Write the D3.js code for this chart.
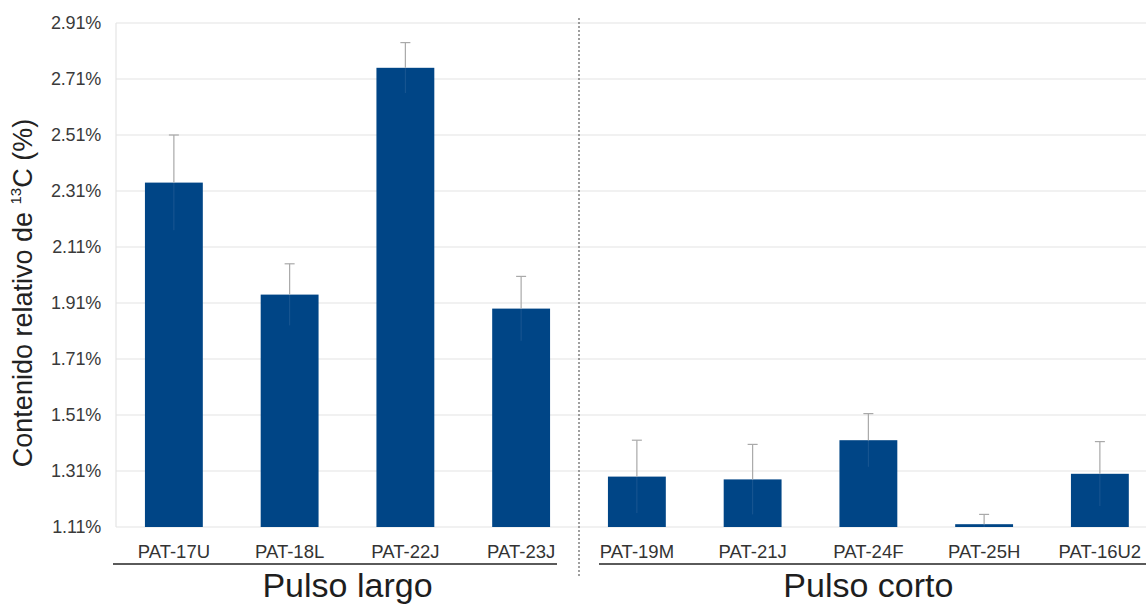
<!DOCTYPE html>
<html>
<head>
<meta charset="utf-8">
<script src="https://cdn.jsdelivr.net/npm/d3@7"></script>
<style>
  html, body { margin: 0; padding: 0; background: #ffffff; }
  svg { display: block; font-family: "Liberation Sans", Arial, sans-serif; }
</style>
</head>
<body>
<svg id="chart" width="1146" height="605"></svg>
<script>
// Samples and their relative 13C content (%) with upper error
const categories = ["PAT-17U", "PAT-18L", "PAT-22J", "PAT-23J", "PAT-19M", "PAT-21J", "PAT-24F", "PAT-25H", "PAT-16U2"];
const values = [2.34, 1.94, 2.75, 1.89, 1.29, 1.28, 1.42, 1.12, 1.30];
const errors = [0.17, 0.11, 0.09, 0.115, 0.13, 0.125, 0.095, 0.035, 0.115];
const tickValues = [1.11, 1.31, 1.51, 1.71, 1.91, 2.11, 2.31, 2.51, 2.71, 2.91];
const groupNames = ["Pulso largo", "Pulso corto"];
const groupMembers = [["PAT-17U", "PAT-18L", "PAT-22J", "PAT-23J"],
                      ["PAT-19M", "PAT-21J", "PAT-24F", "PAT-25H", "PAT-16U2"]];

const svg = d3.select("#chart");
const W = 1146;
const plotLeft = 116, plotTop = 23, plotBottom = 527;

const y = d3.scaleLinear().domain([1.11, 2.91]).range([plotBottom, plotTop]);
const x = d3.scaleBand().domain(categories)
  .range([plotLeft, plotLeft + 9 * 115.75])
  .paddingInner(0.5).paddingOuter(0.25);
const bw = x.bandwidth();

// horizontal gridlines
svg.append("g")
  .selectAll("line")
  .data(tickValues)
  .join("line")
  .attr("x1", plotLeft).attr("x2", W)
  .attr("y1", d => y(d)).attr("y2", d => y(d))
  .attr("stroke", "#e4e4e4").attr("stroke-width", 1.2);

// left frame line of the plot area
svg.append("line")
  .attr("x1", plotLeft).attr("x2", plotLeft)
  .attr("y1", plotTop).attr("y2", plotBottom)
  .attr("stroke", "#e4e4e4").attr("stroke-width", 1.2);

// y axis tick labels
const yAxis = d3.axisLeft(y).tickValues(tickValues)
  .tickFormat(d => d.toFixed(2) + "%").tickSize(0).tickPadding(0);
const yg = svg.append("g").attr("transform", `translate(101,0)`).call(yAxis);
yg.select(".domain").remove();
yg.selectAll("text")
  .attr("font-family", "Liberation Sans, Arial, sans-serif")
  .attr("font-size", 18).attr("fill", "#3a3a3a").attr("letter-spacing", -0.2);

// y axis title
const title = svg.append("text")
  .attr("transform", `translate(32,293) rotate(-90)`)
  .attr("text-anchor", "middle")
  .attr("font-size", 27).attr("fill", "#222");
title.append("tspan").text("Contenido relativo de ");
title.append("tspan").attr("font-size", 15).attr("dy", -11).text("13");
title.append("tspan").attr("dy", 11).text("C (%)");

// bars
svg.append("g")
  .selectAll("rect")
  .data(categories)
  .join("rect")
  .attr("x", d => x(d))
  .attr("width", bw)
  .attr("y", (d, i) => y(values[i]))
  .attr("height", (d, i) => plotBottom - y(values[i]))
  .attr("fill", "#004586");

// error bars
const eg = svg.append("g");
categories.forEach((c, i) => {
  const cx = x(c) + bw / 2;
  const top = y(values[i] + errors[i]);
  const base = y(values[i]);
  const low = y(Math.max(1.11, values[i] - errors[i]));
  eg.append("line").attr("x1", cx).attr("x2", cx).attr("y1", base).attr("y2", low)
    .attr("stroke", "#7f9cc0").attr("stroke-width", 1).attr("opacity", 0.2);
  eg.append("line").attr("x1", cx).attr("x2", cx).attr("y1", top).attr("y2", base)
    .attr("stroke", "#a9a9a9").attr("stroke-width", 1.2);
  eg.append("line").attr("x1", cx - 5).attr("x2", cx + 5).attr("y1", top).attr("y2", top)
    .attr("stroke", "#a9a9a9").attr("stroke-width", 1.2);
});

// category labels
svg.append("g")
  .selectAll("text")
  .data(categories)
  .join("text")
  .attr("x", d => x(d) + bw / 2)
  .attr("y", 558)
  .attr("text-anchor", "middle")
  .attr("font-size", 18.5).attr("fill", "#333")
  .text(d => d);

// dashed divider between the two pulse groups
const divX = (x(categories[3]) + bw + x(categories[4])) / 2;
svg.append("line")
  .attr("x1", divX).attr("x2", divX).attr("y1", 18).attr("y2", 576)
  .attr("stroke", "#777").attr("stroke-width", 1.4)
  .attr("stroke-dasharray", "2,2");

// group underlines and names
const lineExtents = [[plotLeft - 3, divX - 22], [divX + 20, W]];
groupNames.forEach((g, gi) => {
  const members = groupMembers[gi];
  const x0 = x(members[0]);
  const x1 = x(members[members.length - 1]) + bw;
  svg.append("line")
    .attr("x1", lineExtents[gi][0]).attr("x2", lineExtents[gi][1])
    .attr("y1", 564).attr("y2", 564)
    .attr("stroke", "#5a5a5a").attr("stroke-width", 2);
  svg.append("text")
    .attr("x", (x0 + x1) / 2).attr("y", 597)
    .attr("text-anchor", "middle")
    .attr("font-size", 34).attr("fill", "#1e1e1e")
    .text(g);
});
</script>
</body>
</html>
